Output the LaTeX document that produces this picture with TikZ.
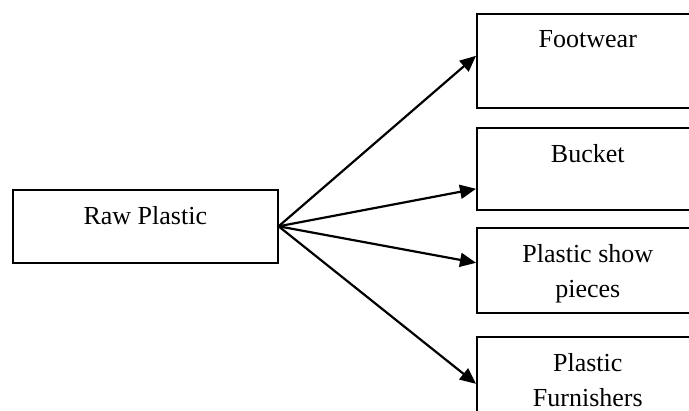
\documentclass[tikz,border=0pt]{standalone}
\usepackage{fontspec}
\setmainfont{Liberation Serif}
\usetikzlibrary{arrows.meta}
\tikzset{
    box/.style={draw,line width=0.8pt,rectangle,anchor=north west,inner sep=0pt},
    boxtext/.style={anchor=north,inner sep=0pt,yshift=-8.5pt,align=center,
      font=\fontsize{13}{17.5}\selectfont},
    link/.style={line width=1.1pt,-{Triangle[length=8pt,width=7pt]}}
}
\begin{document}
\begin{tikzpicture}[x=0.5pt,y=-0.5pt]
    \clip (0,0) rectangle (689,411);
    \node[box,minimum width=132.5pt,minimum height=36.5pt,
      label={[boxtext]north:Raw Plastic}] (raw) at (12,189) {};
    \node[box,minimum width=111pt,minimum height=47pt,
      label={[boxtext]north:Footwear}] (foot) at (476,13) {};
    \node[box,minimum width=111pt,minimum height=41pt,
      label={[boxtext]north:Bucket}] (bucket) at (476,127) {};
    \node[box,minimum width=111pt,minimum height=42.5pt,
      label={[boxtext]north:Plastic show\\pieces}] (show) at (476,227) {};
    \node[box,minimum width=111pt,minimum height=47pt,
      label={[boxtext]north:Plastic\\Furnishers}] (furn) at (476,336) {};
    \draw[link] (raw.east) -- ([yshift=2.5pt]foot.west);
    \draw[link] (raw.east) -- ([yshift=-10pt]bucket.west);
    \draw[link] (raw.east) -- ([yshift=3.75pt]show.west);
    \draw[link] (raw.east) -- (furn.west);
\end{tikzpicture}
\end{document}
